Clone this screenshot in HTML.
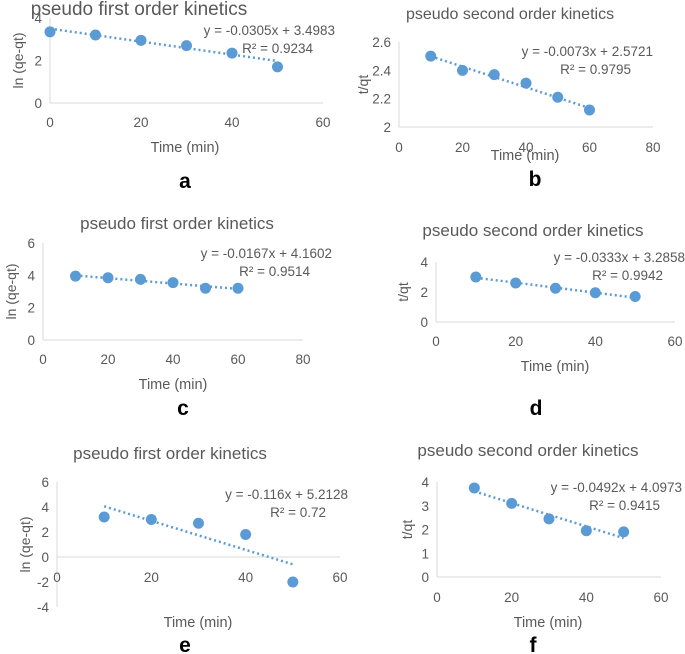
<!DOCTYPE html>
<html><head><meta charset="utf-8"><style>
body{margin:0;background:#fff;}
svg{display:block;font-family:"Liberation Sans",sans-serif;}
</style></head><body>
<svg id="s" width="685" height="654"></svg>
<script>
const timesA=[0,10,20,30,40,50]; const valsA=[3.35,3.2,2.95,2.7,2.35,1.7];
const timesB=[10,20,30,40,50,60]; const valsB=[2.5,2.4,2.37,2.31,2.21,2.12];
const timesC=[10,20,30,40,50,60]; const valsC=[3.95,3.85,3.75,3.55,3.2,3.2];
const timesD=[10,20,30,40,50]; const valsD=[3.0,2.6,2.25,1.95,1.7];
const timesE=[10,20,30,40,50]; const valsE=[3.2,3.0,2.7,1.8,-2.0];
const timesF=[10,20,30,40,50]; const valsF=[3.75,3.1,2.45,1.95,1.9];
const slopes=[-0.0305,-0.0073,-0.0167,-0.0333,-0.116,-0.0492];
const intercepts=[3.4983,2.5721,4.1602,3.2858,5.2128,4.0973];
const eqLabels=["y = -0.0305x + 3.4983","y = -0.0073x + 2.5721","y = -0.0167x + 4.1602","y = -0.0333x + 3.2858","y = -0.116x + 5.2128","y = -0.0492x + 4.0973"];
const r2Labels=["R² = 0.9234","R² = 0.9795","R² = 0.9514","R² = 0.9942","R² = 0.72","R² = 0.9415"];
const xTicksA=[0,20,40,60], xTicksB=[0,20,40,60,80];
const yTicksA=[0,2,4], yTicksB=[2,2.2,2.4,2.6], yTicksC=[0,2,4,6], yTicksE=[-4,-2,0,2,4,6], yTicksF=[0,1,2,3,4];

const NS="http://www.w3.org/2000/svg", svg=document.getElementById('s');
function mk(tag,attrs,parent,txt){const e=document.createElementNS(NS,tag);for(const k in attrs)e.setAttribute(k,attrs[k]);if(txt!==undefined)e.textContent=txt;(parent||svg).appendChild(e);return e;}

const panels=[
 {id:'a',t:timesA,v:valsA,xt:xTicksA,yt:yTicksA,x0:50,x1:323,xmax:60,y0:103,y1:18,ymin:0,ymax:4,title:'pseudo first order kinetics',tx:139,ty:15,ts:19,yl:'ln (qe-qt)',ylx:13,tly:127,tmy:152,lety:188,letx:185,eqx:335,eqy:35,xlab:'Time (min)',tmx:185},
 {id:'b',t:timesB,v:valsB,xt:xTicksB,yt:yTicksB,x0:399,x1:653,xmax:80,y0:127,y1:42,ymin:2,ymax:2.6,title:'pseudo second order kinetics',tx:510,ty:19,ts:16,yl:'t/qt',ylx:358,tly:152,tmy:160,lety:186,letx:535,eqx:653,eqy:56,xlab:'Time (min)',tmx:525},
 {id:'c',t:timesC,v:valsC,xt:xTicksB,yt:yTicksC,x0:43,x1:303,xmax:80,y0:340,y1:243,ymin:0,ymax:6,title:'pseudo first order kinetics',tx:177,ty:229,ts:17,yl:'ln (qe-qt)',ylx:6,tly:364,tmy:389,lety:415,letx:183,eqx:332,eqy:258,xlab:'Time (min)',tmx:173},
 {id:'d',t:timesD,v:valsD,xt:xTicksA,yt:yTicksC.slice(0,3),x0:436,x1:675,xmax:60,y0:322,y1:262,ymin:0,ymax:4,title:'pseudo second order kinetics',tx:533,ty:236,ts:17,yl:'t/qt',ylx:398,tly:346,tmy:371,lety:415,letx:536,eqx:685,eqy:262,xlab:'Time (min)',tmx:555},
 {id:'e',t:timesE,v:valsE,xt:xTicksA,yt:yTicksE,x0:57,x1:340,xmax:60,y0:557,y1:482,ymin:0,ymax:6,title:'pseudo first order kinetics',tx:170,ty:459,ts:17,yl:'ln (qe-qt)',ylx:20,tly:582,tmy:627,lety:652,letx:185,eqx:348,eqy:499,xlab:'Time (min)',tmx:198},
 {id:'f',t:timesF,v:valsF,xt:xTicksA,yt:yTicksF,x0:437,x1:661,xmax:60,y0:577,y1:482,ymin:0,ymax:4,title:'pseudo second order kinetics',tx:528,ty:456,ts:17,yl:'t/qt',ylx:402,tly:602,tmy:627,lety:652,letx:533,eqx:682,eqy:492,xlab:'Time (min)',tmx:548}
];
const grey='#595959';
panels.forEach((p,i)=>{
 const g=mk('g',{});
 
 
 const X=x=>p.x0+(x/p.xmax)*(p.x1-p.x0);
 const Y=y=>p.y0+(y-p.ymin)/(p.ymax-p.ymin)*(p.y1-p.y0);
 const ytop=Y(p.yt[p.yt.length-1]), ybot=Y(p.yt[0]);
 const ya=mk('line',{x1:p.x0,x2:p.x0,y1:ytop,y2:ybot,stroke:'#d9d9d9','stroke-width':1},g);
 
 const xa=mk('line',{x1:p.x0,x2:p.x1,y1:p.y0,y2:p.y0,stroke:'#d9d9d9','stroke-width':1},g);
 
 p.yt.forEach(t=>{const e=mk('text',{x:p.x0-8,y:Y(t)+5,'text-anchor':'end','font-size':13.5,fill:grey},g,String(t));
  });
 p.xt.forEach(t=>{const e=mk('text',{x:X(t),y:p.tly,'text-anchor':'middle','font-size':13.5,fill:grey},g,String(t));
  });
 const ti=mk('text',{x:p.tx,y:p.ty,'text-anchor':'middle','font-size':p.ts,fill:grey},g,p.title);
 
 const ycy=(ytop+ybot)/2;
 const yl=mk('text',{x:p.ylx+5,y:ycy,'text-anchor':'middle','font-size':14,fill:grey,transform:`rotate(-90 ${p.ylx+5} ${ycy}) translate(0 5)`},g,p.yl);
 
 const xl=mk('text',{x:p.tmx,y:p.tmy,'text-anchor':'middle','font-size':14.5,fill:grey},g,p.xlab);
 
 const lt=mk('text',{x:p.letx,y:p.lety,'text-anchor':'middle','font-size':21,'font-weight':'bold',fill:'#000'},g,p.id);
 
 const xmn=Math.min(...p.t), xmx=Math.max(...p.t);
 const tl=mk('line',{x1:X(xmn),y1:Y(slopes[i]*xmn+intercepts[i]),x2:X(xmx),y2:Y(slopes[i]*xmx+intercepts[i]),stroke:'#5b9bd5','stroke-width':2.5,'stroke-dasharray':'2 3'},g);
 
 p.t.forEach((t,j)=>{const c=mk('circle',{cx:X(t),cy:Y(p.v[j]),r:5.5,fill:'#5b9bd5'},g);
  });
 const eq=mk('text',{x:p.eqx,y:p.eqy,'text-anchor':'end','font-size':13.5,fill:grey},g,eqLabels[i]);
 
 const r2=mk('text',{x:p.eqx-22,y:p.eqy+18,'text-anchor':'end','font-size':13.5,fill:grey},g,r2Labels[i]);
 
});
</script>
</body></html>
